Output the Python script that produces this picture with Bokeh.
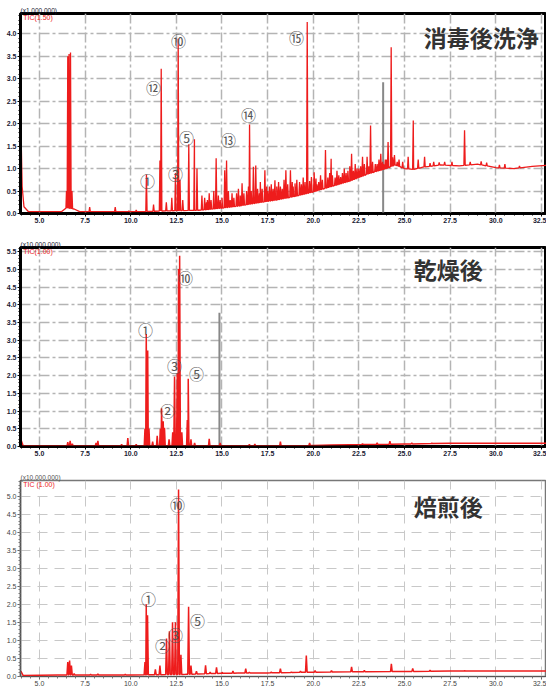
import numpy as np
from bokeh.plotting import figure
from bokeh.layouts import column
from bokeh.models import Range1d, FixedTicker, NumeralTickFormatter, Label
from bokeh.core.properties import value
from bokeh.embed import file_html
from bokeh.resources import INLINE

# ---------------- data ----------------
X_MIN, X_MAX = 3.96, 32.78
X_TICKS = [5.0, 7.5, 10.0, 12.5, 15.0, 17.5, 20.0, 22.5, 25.0, 27.5, 30.0, 32.5]

# Panel 1: 消毒後洗浄 (x1,000,000)
p1_title = "消毒後洗浄"
p1_base_t = [3.98, 4.05, 4.15, 4.4, 6.2, 6.45, 6.9, 7.2, 10.5, 12.0, 13.5, 14.0, 15.0, 16.0, 17.0, 18.0,
             19.0, 20.0, 21.0, 22.0, 23.0, 24.0, 24.5, 25.0, 25.5, 26.0, 27.0, 28.0, 29.0, 30.0, 31.0, 32.0, 32.78]
p1_base_v = [2.0, 0.6, 0.15, 0.04, 0.04, 0.12, 0.1, 0.04, 0.04, 0.06, 0.07, 0.08, 0.12, 0.17, 0.24, 0.3,
             0.38, 0.48, 0.6, 0.72, 0.88, 1.0, 1.08, 1.0, 0.98, 1.03, 1.08, 1.06, 1.1, 1.02, 1.0, 1.05, 1.07]
p1_peak_t = [6.48, 6.55, 6.62, 6.7, 6.78, 7.75, 9.15, 9.9, 10.3, 10.86, 11.25, 11.6, 11.67, 11.95, 12.25,
             12.45, 12.6, 12.7, 12.85, 13.18, 13.49, 13.63, 13.9, 14.2, 14.55, 14.68, 14.9, 15.15, 15.25,
             15.55, 15.8, 16.1, 16.35, 16.51, 16.72, 16.85, 17.2, 17.35, 17.6, 17.9, 18.2, 18.5, 18.75,
             19.0, 19.25, 19.67, 19.9, 20.05, 20.3, 20.67, 20.98, 21.2, 21.5, 21.8, 22.1, 22.4, 22.7,
             22.95, 23.14, 23.4, 23.7, 23.95, 24.1, 24.27, 24.45, 24.6, 25.2, 25.48, 25.75, 26.1, 26.6,
             27.2, 28.29, 28.6, 29.5, 30.5]
p1_peak_v = [0.5, 3.5, 3.55, 3.58, 0.5, 0.14, 0.14, 0.06, 0.08, 0.87, 0.2, 1.18, 3.22, 0.25, 0.35,
             0.9, 3.89, 0.75, 0.3, 1.54, 1.65, 1.0, 0.4, 0.3, 0.5, 1.23, 0.3, 0.96, 1.18,
             0.45, 0.45, 0.67, 0.5, 1.98, 1.04, 1.07, 0.55, 0.96, 0.6, 0.74, 0.6, 0.96, 0.96,
             0.67, 0.7, 4.26, 0.81, 0.92, 0.7, 1.41, 1.22, 0.8, 0.81, 0.9, 1.33, 1.0, 1.26,
             1.26, 1.96, 1.1, 1.33, 1.2, 1.59, 3.70, 1.3, 1.15, 1.26, 2.07, 1.2, 1.26, 1.15,
             1.15, 1.85, 1.15, 1.13, 1.1]
p1_grass_t = [14.05, 14.15, 14.3, 14.4, 14.8, 15.0, 15.35, 15.45, 15.65, 15.9, 16.0, 16.2, 16.45, 16.6,
              16.95, 17.05, 17.1, 17.45, 17.5, 17.7, 17.8, 18.0, 18.1, 18.3, 18.4, 18.6, 18.85, 18.9,
              19.1, 19.35, 19.45, 19.55, 19.8, 20.15, 20.2, 20.4, 20.5, 20.8, 20.9, 21.05, 21.3, 21.4,
              21.6, 21.7, 21.9, 22.0, 22.2, 22.3, 22.5, 22.6, 22.8, 23.05, 23.25, 23.5, 23.6, 23.8,
              23.85, 24.0, 24.35, 24.7, 24.9, 26.4, 26.9, 27.6, 29.2, 30.2, 31.3]
p1_grass_v = [0.35, 0.25, 0.45, 0.3, 0.4, 0.35, 0.5, 0.3, 0.35, 0.55, 0.4, 0.45, 0.6, 0.5,
              0.55, 0.45, 0.7, 0.6, 0.5, 0.65, 0.55, 0.6, 0.7, 0.55, 0.75, 0.65, 0.7, 0.6,
              0.75, 0.65, 0.8, 0.7, 0.72, 0.78, 0.65, 0.85, 0.75, 0.8, 0.9, 0.85, 0.95, 0.85,
              0.9, 1.0, 0.95, 1.05, 0.95, 1.1, 1.0, 1.05, 1.1, 1.05, 1.15, 1.1, 1.2, 1.15,
              1.1, 1.2, 1.25, 1.2, 1.15, 1.12, 1.14, 1.15, 1.16, 1.08, 1.06]
p1_marker_t, p1_marker_v = [23.83], [2.92]
p1_lab_text = ["①", "⑫", "⑩", "③", "⑤", "⑬", "⑭", "⑮"]
p1_lab_t = [10.92, 11.25, 12.62, 12.45, 13.06, 15.36, 16.45, 19.08]
p1_lab_v = [0.74, 2.81, 3.85, 0.9, 1.69, 1.65, 2.21, 3.92]
p1_yticks = [0.0, 0.5, 1.0, 1.5, 2.0, 2.5, 3.0, 3.5, 4.0]

# Panel 2: 乾燥後 (x10,000,000)
p2_title = "乾燥後"
p2_base_t = [3.98, 4.1, 6.0, 10.0, 14.0, 18.0, 20.0, 21.0, 22.0, 25.0, 27.5, 32.78]
p2_base_v = [0.2, 0.03, 0.02, 0.02, 0.02, 0.02, 0.03, 0.04, 0.05, 0.07, 0.09, 0.09]
p2_peak_t = [6.55, 6.68, 6.8, 8.1, 8.2, 9.5, 9.84, 10.3, 10.78, 10.85, 10.93, 11.0, 11.2, 11.45,
             11.62, 11.69, 11.78, 11.85, 12.1, 12.3, 12.4, 12.55, 12.62, 12.68, 12.8, 13.1, 13.15,
             13.3, 13.5, 14.3, 14.9, 16.5, 16.8, 18.2, 19.8, 22.7, 23.5, 24.2, 25.4, 26.5]
p2_peak_v = [0.12, 0.16, 0.08, 0.1, 0.16, 0.06, 0.24, 0.06, 0.5, 3.18, 2.71, 0.5, 0.14, 0.3,
             0.5, 1.08, 0.71, 0.53, 0.2, 0.4, 1.98, 2.07, 5.01, 5.39, 0.4, 0.75, 1.91,
             0.2, 0.1, 0.22, 0.1, 0.06, 0.07, 0.14, 0.1, 0.08, 0.1, 0.15, 0.1, 0.1]
p2_marker_t, p2_marker_v = [14.86], [3.78]
p2_lab_text = ["①", "⑩", "③", "⑤", "②"]
p2_lab_t = [10.81, 13.0, 12.4, 13.6, 12.01]
p2_lab_v = [3.30, 4.77, 2.28, 2.05, 1.01]
p2_yticks = [0.0, 0.5, 1.0, 1.5, 2.0, 2.5, 3.0, 3.5, 4.0, 4.5, 5.0, 5.5]

# Panel 3: 焙煎後 (x10,000,000)
p3_title = "焙煎後"
p3_base_t = [3.98, 4.1, 6.0, 10.0, 13.0, 15.0, 17.5, 20.0, 22.5, 25.0, 27.5, 30.0, 32.78]
p3_base_v = [0.15, 0.03, 0.04, 0.04, 0.06, 0.09, 0.1, 0.12, 0.13, 0.14, 0.15, 0.15, 0.15]
p3_peak_t = [6.55, 6.65, 6.75, 6.9, 7.8, 8.2, 9.7, 10.78, 10.85, 10.92, 11.35, 11.6, 11.96, 12.12,
             12.29, 12.45, 12.62, 12.75, 13.17, 13.3, 13.6, 14.1, 14.35, 14.7, 15.0, 15.6, 15.9,
             16.3, 16.5, 17.0, 17.7, 18.2, 18.8, 19.3, 19.62, 20.1, 21.0, 22.1, 22.8, 24.28, 25.45,
             26.4, 28.3]
p3_peak_v = [0.4, 0.44, 0.3, 0.08, 0.06, 0.07, 0.06, 0.4, 2.0, 1.7, 0.2, 0.3, 1.05, 1.25,
             1.5, 1.5, 5.18, 0.6, 1.93, 0.3, 0.15, 0.31, 0.12, 0.25, 0.12, 0.15, 0.1,
             0.22, 0.12, 0.1, 0.12, 0.22, 0.12, 0.15, 0.58, 0.16, 0.16, 0.27, 0.17, 0.35, 0.22,
             0.17, 0.16]
p3_lab_text = ["⑩", "①", "②", "③", "⑤"]
p3_lab_t = [12.56, 10.97, 11.74, 12.45, 13.66]
p3_lab_v = [4.76, 2.16, 0.86, 1.16, 1.55]
p3_yticks = [0.0, 0.5, 1.0, 1.5, 2.0, 2.5, 3.0, 3.5, 4.0, 4.5, 5.0]

RED = "#ee1c1c"
CJK = "Noto Sans CJK JP"


def build_trace(base_t, base_v, pk_t, pk_v, half_w):
    xs = list(base_t)
    ys = list(base_v)
    for t, v in zip(pk_t, pk_v):
        b = float(np.interp(t, base_t, base_v))
        xs += [t - half_w, t, t + half_w]
        ys += [b, max(v, b), b]
    order = np.argsort(np.array(xs), kind="stable")
    return np.array(xs)[order], np.array(ys)[order]


def make_panel(frame_h, y_top, yticks, top_border, bottom_border, old_style, header, tic):
    p = figure(frame_width=526, frame_height=frame_h, output_backend="svg", toolbar_location=None,
               x_range=Range1d(X_MIN, X_MAX), y_range=Range1d(0, y_top),
               min_border_left=20, min_border_right=0, min_border_top=top_border,
               min_border_bottom=bottom_border, background_fill_color="white",
               title=header)
    p.title.align = "left"
    p.title.text_font_size = "6.5px"
    p.title.text_font = "Liberation Sans"
    p.title.text_font_style = "normal"
    p.title.standoff = 0
    p.title.offset = 0
    minor_x = [round(4.0 + 0.5 * i, 2) for i in range(58)]
    p.xaxis.ticker = FixedTicker(ticks=X_TICKS, minor_ticks=minor_x)
    minor_y = [round(0.1 * i, 2) for i in range(int(y_top * 10) + 1)]
    p.yaxis.ticker = FixedTicker(ticks=yticks, minor_ticks=minor_y)
    p.xaxis.formatter = NumeralTickFormatter(format="0.0")
    p.yaxis.formatter = NumeralTickFormatter(format="0.0")
    for ax in (p.xaxis, p.yaxis):
        ax.major_label_text_font_size = "7px"
        ax.major_label_standoff = 1
        ax.major_tick_in = 0
        ax.major_tick_out = 3
        ax.minor_tick_in = 0
        ax.minor_tick_out = 2
    if old_style:
        for ax in (p.xaxis, p.yaxis):
            ax.major_label_text_font = "Liberation Sans"
            ax.major_label_text_font_style = "bold"
            ax.major_label_text_color = "#1a1a33"
            ax.axis_line_color = "black"
            ax.major_tick_line_color = "black"
            ax.minor_tick_line_color = "black"
        p.yaxis.axis_line_width = 3
        p.xaxis.axis_line_width = 2
        p.outline_line_color = "black"
        p.outline_line_width = 3
        p.grid.grid_line_color = "#b4b4b4"
        p.grid.grid_line_width = 1.5
        p.grid.grid_line_dash = "10 3 3 3"
        p.title.text_color = "#1a1a33"
    else:
        for ax in (p.xaxis, p.yaxis):
            ax.major_label_text_font = "Liberation Sans"
            ax.major_label_text_color = "#444444"
            ax.axis_line_color = "#555555"
            ax.major_tick_line_color = "#555555"
            ax.minor_tick_line_color = "#777777"
        p.yaxis.axis_line_width = 1.5
        p.xaxis.axis_line_width = 1
        p.outline_line_color = "#777777"
        p.outline_line_width = 1.5
        p.grid.grid_line_color = "#c8c8c8"
        p.grid.grid_line_width = 1
        p.grid.grid_line_dash = "10 7"
        p.title.text_color = "#555555"
    p.add_layout(Label(x=X_MIN + 0.15, y=y_top, text=tic, text_baseline="top",
                       text_font_size="7px", text_color=RED, text_font="Liberation Sans"))
    return p


def add_content(p, title, title_t, title_v, base_t, base_v, pk_t, pk_v, half_w,
                lab_text, lab_t, lab_v, lw, marker=None):
    if marker is not None:
        mt, mv = marker
        p.segment(x0=mt, y0=[0] * len(mt), x1=mt, y1=mv, line_color="#888888", line_width=2)
    x, y = build_trace(base_t, base_v, pk_t, pk_v, half_w)
    p.line(x, y, line_color=RED, line_width=lw)
    p.text(x=lab_t, y=lab_v, text=lab_text, text_font=value(CJK), text_font_size="15px",
           text_align="center", text_baseline="middle", text_color="#555555")
    p.text(x=[title_t], y=[title_v], text=[title], text_font=value(CJK), text_font_size="23px",
           text_font_style="bold", text_align="center", text_baseline="middle", text_color="#333333")


# Panel 1
p1 = make_panel(200, 4.45, p1_yticks, 13, 19, True, "(x1,000,000)", "TIC(1.50)")
gx = list(p1_peak_t) + list(p1_grass_t)
gv = list(p1_peak_v) + list(p1_grass_v)
add_content(p1, p1_title, 29.2, 3.92, p1_base_t, p1_base_v, gx, gv, 0.035,
            p1_lab_text, p1_lab_t, p1_lab_v, 1.3, marker=(p1_marker_t, p1_marker_v))

# Panel 2
p2 = make_panel(199, 5.62, p2_yticks, 15, 19, True, "(x10,000,000)", "TIC(1.00)")
add_content(p2, p2_title, 27.4, 5.0, p2_base_t, p2_base_v, p2_peak_t, p2_peak_v, 0.04,
            p2_lab_text, p2_lab_t, p2_lab_v, 1.5, marker=(p2_marker_t, p2_marker_v))

# Panel 3
p3 = make_panel(196, 5.43, p3_yticks, 15, 13, False, "(x10,000,000)", "TIC (1.00)")
add_content(p3, p3_title, 27.4, 4.71, p3_base_t, p3_base_v, p3_peak_t, p3_peak_v, 0.045,
            p3_lab_text, p3_lab_t, p3_lab_v, 1.5)

layout = column(p1, p2, p3, spacing=0)
open("out.html", "w").write(file_html(layout, INLINE))
